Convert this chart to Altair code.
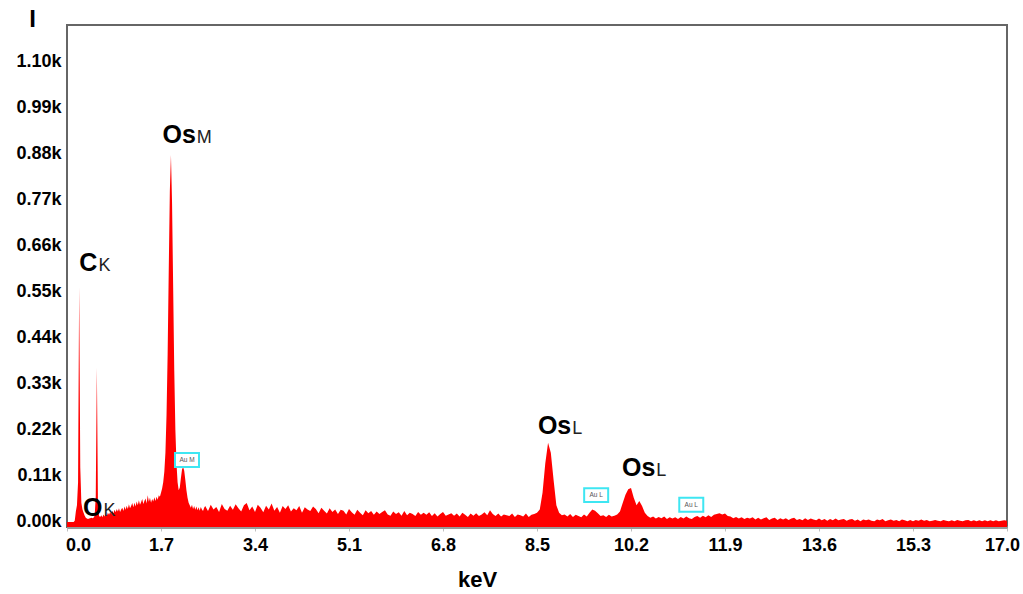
import altair as alt
import pandas as pd

# ---- spectrum channels (counts) ----
LOW_START = 0.0      # keV
LOW_STEP = 0.02      # keV per channel, 0.00 .. 2.48
LOW_COUNTS = [
    0, 0, 0, 0, 0, 0, 0, 3, 25, 40,            # 0.00-0.18
    95, 561, 130, 45, 30, 22, 15, 10, 8, 7,    # 0.20-0.38
    8, 9, 10, 9, 10, 15, 60, 368, 40, 14,      # 0.40-0.58
    12, 16, 11, 18, 13, 20, 14, 22, 17, 24,    # 0.60-0.78
    19, 27, 21, 29, 23, 31, 25, 33, 24, 30,    # 0.80-0.98
    34, 26, 37, 29, 39, 31, 42, 33, 38, 45,    # 1.00-1.18
    35, 46, 37, 49, 40, 52, 41, 47, 55, 43,    # 1.20-1.38
    50, 56, 44, 64, 48, 58, 46, 55, 49, 59,    # 1.40-1.58
    50, 60, 53, 64, 60, 70, 80, 95, 120, 165,  # 1.60-1.78
    255, 400, 600, 790, 876, 760, 560, 360, 220, 140,  # 1.80-1.98
    95, 76, 82, 105, 125, 131, 122, 100, 76, 58,       # 2.00-2.18
    46, 40, 34, 41, 31, 38, 29, 37, 28, 35,    # 2.20-2.38
    27, 36, 30, 26, 34,                        # 2.40-2.48
]

HIGH_START = 2.5     # keV
HIGH_STEP = 0.05     # keV per channel, 2.50 .. 17.00
HIGH_COUNTS = [
    38, 26, 41, 30, 36, 24, 43, 31, 27, 39,    # 2.50
    29, 42, 33, 25, 40, 45, 28, 37, 24, 41,    # 3.00
    34, 23, 39, 30, 44, 27, 36, 22, 38, 31,    # 3.50
    40, 25, 33, 28, 38, 22, 35, 30, 26, 37,    # 4.00
    31, 21, 34, 27, 20, 33, 24, 30, 19, 29,    # 4.50
    27, 18, 31, 23, 17, 29, 22, 16, 28, 21,    # 5.00
    26, 17, 25, 19, 24, 28, 18, 15, 25, 19,    # 5.50
    23, 15, 26, 16, 22, 19, 14, 24, 17, 22,    # 6.00
    17, 23, 14, 21, 13, 19, 24, 15, 18, 21,    # 6.50
    15, 20, 13, 22, 17, 12, 20, 15, 21, 14,    # 7.00
    18, 23, 16, 28, 19, 14, 20, 13, 18, 16,    # 7.50
    14, 20, 12, 18, 16, 13, 20, 12, 17, 19,    # 8.00
    22, 30, 70, 140, 189, 165, 100, 40, 22, 16,  # 8.50
    18, 13, 19, 12, 17, 14, 11, 18, 13, 22,    # 9.00
    30, 27, 21, 14, 16, 12, 17, 13, 15, 18,    # 9.50
    25, 45, 65, 78, 81, 58, 40, 50, 38, 22,    # 10.00
    14, 10, 13, 8, 12, 9, 13, 7, 11, 8,        # 10.50
    11, 7, 12, 8, 13, 9, 7, 12, 14, 10,        # 11.00
    15, 11, 16, 12, 17, 19, 21, 18, 20, 14,    # 11.50
    13, 9, 12, 8, 11, 7, 10, 8, 11, 6,         # 12.00
    10, 6, 9, 11, 5, 8, 10, 5, 9, 6,           # 12.50
    9, 5, 8, 10, 5, 7, 4, 9, 5, 8,             # 13.00
    6, 4, 8, 4, 7, 3, 7, 4, 8, 4,              # 13.50
    6, 7, 3, 6, 7, 3, 6, 2, 6, 4,              # 14.00
    6, 3, 2, 6, 4, 7, 2, 4, 6, 3,              # 14.50
    5, 2, 6, 4, 2, 5, 2, 5, 3, 6,              # 15.00
    3, 5, 2, 3, 5, 3, 2, 5, 3, 2,              # 15.50
    4, 2, 5, 3, 2, 4, 5, 2, 4, 2,              # 16.00
    4, 2, 4, 2, 4, 2, 4, 2, 3, 4,              # 16.50
    3,                                          # 17.00
]

X_TICKS = [0.0, 1.7, 3.4, 5.1, 6.8, 8.5, 10.2, 11.9, 13.6, 15.3, 17.0]
Y_TICKS = [0, 110, 220, 330, 440, 550, 660, 770, 880, 990, 1100]
X_DOMAIN = [0.0, 17.0]
Y_DOMAIN = [-12, 1186]

# peak annotations: element symbol, line family, anchor (keV, counts)
PEAK_MAIN = ["C", "O", "Os", "Os", "Os"]
PEAK_SUB = ["K", "K", "M", "L", "L"]
PEAK_KEV = [0.55, 0.64, 2.33, 9.12, 10.64]
PEAK_COUNTS = [599, 14, 905, 210, 110]

# small Au marker boxes
AU_LABEL = ["Au M", "Au L", "Au L"]
AU_KEV = [2.17, 9.57, 11.29]
AU_COUNTS = [148, 64, 41]

FONT = "Liberation Sans"

kev = [LOW_START + i * LOW_STEP for i in range(len(LOW_COUNTS))] + \
      [HIGH_START + i * HIGH_STEP for i in range(len(HIGH_COUNTS))]
spec = pd.DataFrame({"keV": kev, "counts": LOW_COUNTS + HIGH_COUNTS})
peaks = pd.DataFrame({"main": PEAK_MAIN, "sub": PEAK_SUB,
                      "keV": PEAK_KEV, "counts": PEAK_COUNTS})
au = pd.DataFrame({"label": AU_LABEL, "keV": AU_KEV, "counts": AU_COUNTS})

xscale = alt.Scale(domain=X_DOMAIN, nice=False, zero=False)
yscale = alt.Scale(domain=Y_DOMAIN, nice=False, zero=False)

xaxis = alt.Axis(values=X_TICKS, format=".1f", grid=False,
                 labelFont=FONT, labelFontSize=18, labelFontWeight="bold",
                 labelColor="black", labelPadding=5, labelFlush=False,
                 labelOffset={"condition": [
                     {"test": "datum.value == 0", "value": 11},
                     {"test": "datum.value == 17", "value": -5}],
                     "value": 0},
                 domainColor="#9a9a9a", domainWidth=3,
                 tickColor="#c0c0c0", tickSize=4,
                 title="keV", titleFont=FONT, titleFontSize=22,
                 titleFontWeight="bold", titleColor="black",
                 titleX=410, titleY=52, titleAlign="center",
                 titleBaseline="middle")
yaxis = alt.Axis(values=Y_TICKS, grid=False, domain=False,
                 labelExpr="format(datum.value / 1000, '.2f') + 'k'",
                 labelFont=FONT, labelFontSize=18, labelFontWeight="bold",
                 labelColor="black", labelPadding=6, tickSize=0,
                 title="I", titleFont=FONT, titleFontSize=24,
                 titleFontWeight="bold", titleColor="black", titleAngle=0,
                 titleX=-35, titleY=-6, titleAlign="center",
                 titleBaseline="middle")

area = alt.Chart(spec).mark_area(color="#ff0000", clip=True, interpolate="linear").encode(
    x=alt.X("keV:Q", scale=xscale, axis=xaxis),
    y=alt.Y("counts:Q", scale=yscale, axis=yaxis),
    y2=alt.datum(Y_DOMAIN[0]),
)

main_txt = alt.Chart(peaks).mark_text(
    align="right", baseline="alphabetic", font=FONT, fontSize=25,
    fontWeight="bold", color="black"
).encode(x=alt.X("keV:Q", scale=xscale), y=alt.Y("counts:Q", scale=yscale),
         text="main:N")

sub_txt = alt.Chart(peaks).mark_text(
    align="left", baseline="alphabetic", font=FONT, fontSize=18,
    color="#222222", dx=1
).encode(x=alt.X("keV:Q", scale=xscale), y=alt.Y("counts:Q", scale=yscale),
         text="sub:N")

boxes = alt.Chart(au).mark_point(
    shape="M-1,-0.58L1,-0.58L1,0.58L-1,0.58Z", size=576, filled=False,
    fill="white", fillOpacity=1, stroke="#3ee6f2", strokeWidth=2, opacity=1
).encode(x=alt.X("keV:Q", scale=xscale), y=alt.Y("counts:Q", scale=yscale))

box_txt = alt.Chart(au).mark_text(
    font=FONT, fontSize=6.5, color="#555555", baseline="middle", align="center"
).encode(x=alt.X("keV:Q", scale=xscale), y=alt.Y("counts:Q", scale=yscale),
         text="label:N")

chart = alt.layer(area, main_txt, sub_txt, boxes, box_txt).properties(
    width=940, height=502,
    autosize=alt.AutoSizeParams(type="none"),
    padding={"left": 67, "top": 25, "right": 16, "bottom": 67},
    background="white",
).configure_view(stroke="#666666", strokeWidth=2)

chart.save("out.html", embed_options={"renderer": "svg", "actions": False})
